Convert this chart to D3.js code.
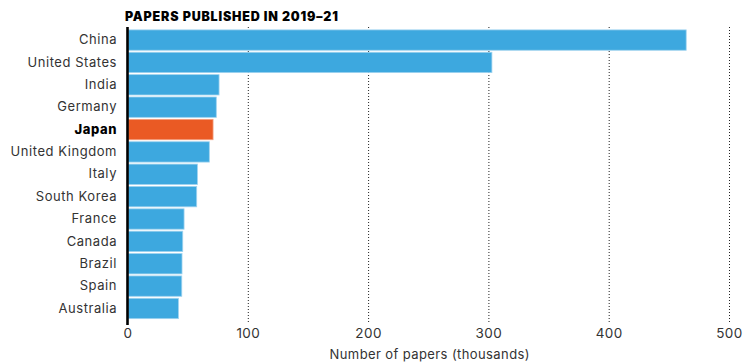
<!DOCTYPE html>
<html>
<head>
<meta charset="utf-8">
<script src="https://cdn.jsdelivr.net/npm/d3@7"></script>
<style>
  body { margin: 0; background: #fff; }
  svg { display: block; font-family: Inter, "Noto Sans", sans-serif; }
</style>
</head>
<body>
<div id="chart"></div>
<script>
const countries = ["China", "United States", "India", "Germany", "Japan", "United Kingdom",
    "Italy", "South Korea", "France", "Canada", "Brazil", "Spain", "Australia"];
const papers = [464, 302.5, 75.7, 73.4, 70.7, 67.6, 57.7, 57.1, 46.6, 45.5, 44.9, 44.7, 41.9];
const xTicks = [0, 100, 200, 300, 400, 500];
const highlight = "Japan";

const data = countries.map((c, i) => ({ country: c, value: papers[i] }));

const width = 744, height = 363;
const margin = { top: 27, right: 14, bottom: 44, left: 128 };

const svg = d3.select("#chart").append("svg")
    .attr("width", width)
    .attr("height", height);

const x = d3.scaleLinear().domain([0, 500]).range([margin.left, margin.left + 601.5]);
const y = d3.scaleBand().domain(countries)
    .range([margin.top + 2, margin.top + 2 + 13 * 22.35])
    .paddingInner(0.09).paddingOuter(0.04);

const plotBottom = 325;

// dotted gridlines
svg.append("g")
    .selectAll("line")
    .data(xTicks.filter(d => d > 0))
    .enter().append("line")
    .attr("x1", d => x(d))
    .attr("x2", d => x(d))
    .attr("y1", margin.top)
    .attr("y2", plotBottom - 2)
    .attr("stroke", "#222")
    .attr("stroke-width", 1)
    .attr("stroke-dasharray", "1,2");

// bars
svg.append("g")
    .selectAll("rect")
    .data(data)
    .enter().append("rect")
    .attr("x", x(0))
    .attr("y", d => y(d.country))
    .attr("width", d => x(d.value) - x(0))
    .attr("height", y.bandwidth())
    .attr("fill", d => d.country === highlight ? "#ea5a24" : "#3da8df")
    .attr("stroke", d => d.country === highlight ? "#f4a080" : "#9fd3ef")
    .attr("stroke-width", 0.8);

// category axis
const yAxis = svg.append("g")
    .attr("transform", `translate(${x(0)},0)`)
    .call(d3.axisLeft(y).tickSize(6).tickPadding(5));
yAxis.select(".domain").remove();
yAxis.selectAll(".tick line").attr("stroke", "#333").attr("x2", -1);
yAxis.selectAll(".tick text")
    .style("font-size", "13px")
    .style("font-family", "Inter, 'Noto Sans', sans-serif")
    .style("letter-spacing", "0.55px")
    .attr("fill", d => d === highlight ? "#000" : "#333")
    .style("font-weight", d => d === highlight ? "800" : "400");

// thick baseline
svg.append("line")
    .attr("x1", x(0) - 0.5)
    .attr("x2", x(0) - 0.5)
    .attr("y1", margin.top)
    .attr("y2", plotBottom)
    .attr("stroke", "#000")
    .attr("stroke-width", 2.6);

// value axis labels
svg.append("g")
    .selectAll("text")
    .data(xTicks)
    .enter().append("text")
    .attr("x", d => x(d))
    .attr("y", 338)
    .attr("text-anchor", "middle")
    .attr("fill", "#333")
    .style("font-size", "13.5px")
    .style("letter-spacing", "0.4px")
    .text(d => d);

svg.append("text")
    .attr("x", x(250) + 1)
    .attr("y", 359)
    .attr("text-anchor", "middle")
    .attr("fill", "#333")
    .style("font-size", "13px")
    .style("letter-spacing", "0.4px")
    .text("Number of papers (thousands)");

svg.append("text")
    .attr("x", 125)
    .attr("y", 20.5)
    .attr("fill", "#000")
    .style("font-size", "12.5px")
    .style("font-weight", "900")
    .style("letter-spacing", "0.8px")
    .text("PAPERS PUBLISHED IN 2019–21");
</script>
</body>
</html>
